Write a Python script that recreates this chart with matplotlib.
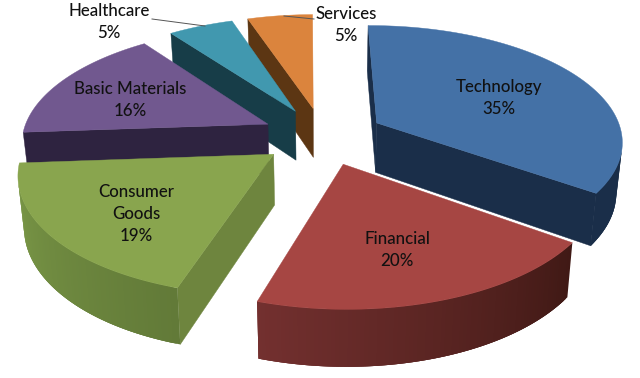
import numpy as np
import matplotlib
matplotlib.use("Agg")
import matplotlib.pyplot as plt
from matplotlib.colors import to_rgb

categories = ["Technology", "Financial", "Consumer\nGoods", "Basic Materials", "Healthcare", "Services"]
values = [35, 20, 19, 16, 5, 5]

top_colors = ["#4471A6", "#A64643", "#89A54E", "#71588F", "#4198AF", "#DB843D"]
side_right = ["#1A2E49", "#401915", "#627A38", "#2E2340", "#173D48", "#5C3613"]
side_left = ["#1A2E49", "#73302F", "#7C9A48", "#2E2340", "#173D48", "#5C3613"]
radial_colors = ["#1A2E49", "#73302F", "#6E853E", "#2E2340", "#173D48", "#5C3613"]
draw_order = [5, 4, 3, 0, 2, 1]
label_pos = [(499, 98), (397, 250), (136, 214), (130, 100), (109, 22), (346, 25)]

CX, CY, RX, RY = 323, 136, 246, 115
PERSP, EXPLODE, DROP, SHRINK = 0.145, 0.25, 50, 0.98
START = np.radians(-0.5)


def project(u, v, z):
    w = 1 + PERSP * v
    s = SHRINK if z else 1.0
    return CX + RX * u / w * s, CY - RY * v / w * s + (DROP / w if z else 0)


def area(q):
    x, y = np.array(q).T
    return 0.5 * np.sum(x * np.roll(y, -1) - np.roll(x, -1) * y)


fig = plt.figure(figsize=(6.4, 3.78), dpi=100)
ax = fig.add_axes([0, 0, 1, 1])
ax.set_xlim(0, 640)
ax.set_ylim(378, 0)
ax.axis("off")

edges = START + np.concatenate([[0], np.cumsum(values)]) / np.sum(values) * 2 * np.pi

for i in draw_order:
    t0, t1 = edges[i], edges[i + 1]
    mid = (t0 + t1) / 2
    ou, ov = EXPLODE * np.sin(mid), EXPLODE * np.cos(mid)
    ts = np.linspace(t0, t1, 90)
    pts_u = ou + np.sin(ts)
    pts_v = ov + np.cos(ts)
    top = [project(a, b, 0) for a, b in zip(pts_u, pts_v)]
    bot = [project(a, b, 1) for a, b in zip(pts_u, pts_v)]
    apex_t, apex_b = project(ou, ov, 0), project(ou, ov, 1)

    for q in ([apex_t, top[0], bot[0], apex_b], [top[-1], apex_t, apex_b, bot[-1]]):
        if area(q) < 0:
            ax.fill(*zip(*q), color=radial_colors[i], lw=0.3, zorder=1)
    c0, c1 = np.array(to_rgb(side_right[i])), np.array(to_rgb(side_left[i]))
    n = len(ts)
    for k in range(n - 1):
        q = [top[k], top[k + 1], bot[k + 1], bot[k]]
        if area(q) < 0:
            f = k / (n - 2)
            e = min(k + 3, n - 1)  # overlap the next strips so no seams show
            strip = [top[k], top[e], bot[e], bot[k]]
            ax.fill(*zip(*strip), facecolor=tuple(c0 + (c1 - c0) * f), lw=0, zorder=1)
    ax.fill(*zip(*([apex_t] + top)), color=top_colors[i], lw=0.3, zorder=1)

ax.plot([152, 205], [19, 26], color="#555555", lw=0.7, zorder=2)
ax.plot([284, 314], [16, 19], color="#555555", lw=0.7, zorder=2)

for name, val, (x, y) in zip(categories, values, label_pos):
    ax.text(x, y, f"{name}\n{val}%", ha="center", va="center", family="Lato",
            weight="medium", fontsize=12.2, color="#111111", linespacing=1.49, zorder=3)

fig.savefig("out.png", dpi=100)
